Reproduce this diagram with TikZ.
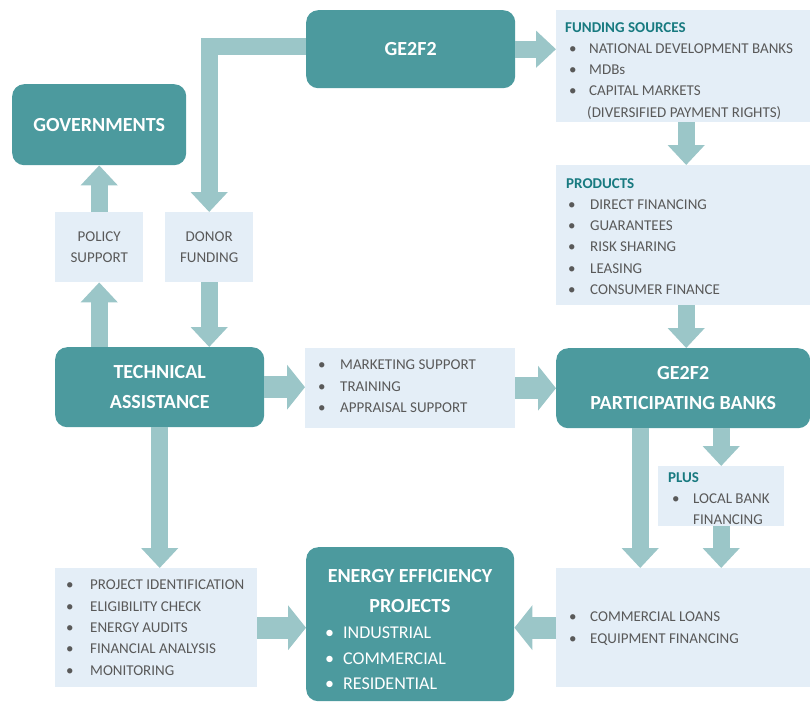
\documentclass[tikz,border=0pt]{standalone}
\usepackage{fontspec}
\setmainfont{Carlito}
\usetikzlibrary{arrows.meta}
\definecolor{dark}{RGB}{76,154,158}
\definecolor{arr}{RGB}{155,198,200}
\definecolor{lite}{RGB}{228,238,247}
\definecolor{txt}{RGB}{89,89,89}
\definecolor{headc}{RGB}{24,122,128}
\newcommand{\bitem}[2][20pt]{\makebox[#1][l]{\textbullet}#2}
\newcommand{\hd}[2][-4pt]{\hspace*{#1}\textcolor{headc}{\bfseries #2}}
\begin{document}
\begin{tikzpicture}[x=1pt,y=-1pt,
 darkbox/.style={anchor=north west, fill=dark, rounded corners=12pt, inner sep=0pt, text=white, font=\fontsize{20}{30}\selectfont\bfseries, align=center},
 litebox/.style={anchor=north west, fill=lite, inner sep=0pt, text=txt, font=\fontsize{15}{21.3}\selectfont, align=center},
 listtext/.style={anchor=north west, inner sep=0pt, text=txt, font=\fontsize{15}{21.3}\selectfont, align=left},
 blk/.style={draw=arr, line width=17pt, -{Triangle[width=36pt,length=20pt]}},
 blkw/.style={draw=arr, line width=22pt, -{Triangle[width=44pt,length=18pt]}},
]
\useasboundingbox (0,0) rectangle (810,702);
% dark boxes
\node[darkbox, minimum width=174pt, minimum height=81pt] (gov) at (12,84) {GOVERNMENTS};
\node[darkbox, minimum width=209pt, minimum height=78pt] (ge) at (306,10) {GE2F2};
\node[darkbox, minimum width=209pt, minimum height=80pt] (ta) at (55,347) {TECHNICAL\\ASSISTANCE};
\node[darkbox, minimum width=254pt, minimum height=80pt] (banks) at (556,348) {GE2F2\\PARTICIPATING BANKS};
\node[darkbox, minimum width=208pt, minimum height=154pt] (ee) at (306,547) {};
\node[anchor=north, inner sep=0pt, text=white, font=\fontsize{20}{30}\selectfont\bfseries, align=center] (eet) at (410,569) {ENERGY EFFICIENCY\\PROJECTS};
\node[anchor=north west, inner sep=0pt, text=white, font=\fontsize{18}{25.5}\selectfont, align=left] (eel) at (325,627) {\bitem[18pt]{INDUSTRIAL}\\ \bitem[18pt]{COMMERCIAL}\\ \bitem[18pt]{RESIDENTIAL}};
% light boxes
\node[litebox, minimum width=254pt, minimum height=112pt] (fund) at (556,10) {};
\node[listtext] (fundt) at (569,22) {\hd{FUNDING SOURCES}\\ \bitem{NATIONAL DEVELOPMENT BANKS}\\ \bitem{MDBs}\\ \bitem{CAPITAL MARKETS}\\ \hspace*{18pt}(DIVERSIFIED PAYMENT RIGHTS)};
\node[litebox, minimum width=254pt, minimum height=140pt] (prod) at (556,165) {};
\node[listtext] (prodt) at (568,178) {\hd[-2pt]{PRODUCTS}\\ \bitem[22pt]{DIRECT FINANCING}\\ \bitem[22pt]{GUARANTEES}\\ \bitem[22pt]{RISK SHARING}\\ \bitem[22pt]{LEASING}\\ \bitem[22pt]{CONSUMER FINANCE}};
\node[litebox, minimum width=88pt, minimum height=70pt] (pol) at (55,212) {POLICY\\SUPPORT};
\node[litebox, minimum width=88pt, minimum height=70pt] (don) at (165,212) {DONOR\\FUNDING};
\node[litebox, minimum width=210pt, minimum height=80pt] (mk) at (305,348) {};
\node[listtext] (mkt) at (318,360) {\bitem[22pt]{MARKETING SUPPORT}\\ \bitem[22pt]{TRAINING}\\ \bitem[22pt]{APPRAISAL SUPPORT}};
\node[litebox, minimum width=126pt, minimum height=60pt] (plus) at (658,466) {};
\node[listtext] (plust) at (672,472) {\hd[-4pt]{PLUS}\\ \bitem[21pt]{LOCAL BANK}\\ \hspace*{21pt}FINANCING};
\node[litebox, minimum width=202pt, minimum height=119pt] (bl) at (55,568) {};
\node[listtext] (blt) at (66,580) {\bitem[24pt]{PROJECT IDENTIFICATION}\\ \bitem[24pt]{ELIGIBILITY CHECK}\\ \bitem[24pt]{ENERGY AUDITS}\\ \bitem[24pt]{FINANCIAL ANALYSIS}\\ \bitem[24pt]{MONITORING}};
\node[litebox, minimum width=254pt, minimum height=119pt] (com) at (556,568) {};
\node[listtext] (comt) at (569,612) {\bitem[21pt]{COMMERCIAL LOANS}\\ \bitem[21pt]{EQUIPMENT FINANCING}};
% arrows
\draw[blk] (ge.east) -- (ge.east -| fund.west);
\draw[blk] ([yshift=3pt]ge.west) -| (don.north);
\draw[blk] ([xshift=3pt]fund.south) -- ([xshift=3pt]prod.north);
\draw[blk] ([xshift=3pt]prod.south) -- ([xshift=3pt]banks.north);
\draw[blk] (pol.south |- ta.north) -- (pol.south);
\draw[blk] (pol.north) -- (pol.north |- gov.south);
\draw[blk] (don.south) -- (don.south |- ta.north);
\draw[blkw] (ta.east) -- (ta.east -| mk.west);
\draw[blkw] (mk.east) -- (mk.east -| banks.west);
\draw[blk] (ta.south) -- (ta.south |- bl.north);
\draw[blk] ([xshift=-43pt]banks.south) -- ([xshift=-43pt]banks.south |- com.north);
\draw[blk] (plus.north |- banks.south) -- (plus.north);
\draw[blk] (plus.south) -- (plus.south |- com.north);
\draw[blkw] (bl.east) -- (bl.east -| ee.west);
\draw[blkw] (com.west) -- (com.west -| ee.east);
\end{tikzpicture}
\end{document}
